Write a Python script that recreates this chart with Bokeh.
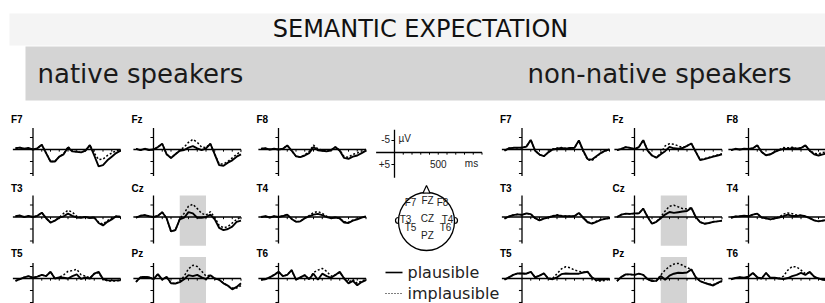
from bokeh.plotting import figure
from bokeh.models import Range1d
from bokeh.core.properties import value
from bokeh.embed import file_html
from bokeh.resources import INLINE
import math

# ---------------- data ----------------
times = [-200, -150, -100, -50, 0, 50, 100, 150, 200, 250, 300, 350, 400,
         450, 500, 550, 600, 650, 700, 750, 800, 850, 900, 950, 1000]

electrodes = [["F7", "Fz", "F8"], ["T3", "Cz", "T4"], ["T5", "Pz", "T6"]]
y_ticks_uv = [-5, 5, 10]
x_ticks_ms = [100, 200, 300, 400, 500, 600, 700, 800, 900, 1000]
n400_window = [300, 600]

# native speakers (uV, negative plotted up)
nat_F7_plaus = [-0.5, -0.8, -0.3, -0.6, 0, -0.5, -2.0, 1.5, 5.0, 5.0, 3.0, 2.0, -0.8, 0.8, 1.0, 1.2, 0.5, -1.8, 2.5, 7.0, 6.5, 4.5, 3.0, 1.5, 0.5]
nat_F7_impl = [-0.5, -0.8, -0.3, -0.6, 0, -0.5, -2.0, 1.5, 5.0, 5.0, 3.0, 1.8, -1.2, 0.5, 1.0, 1.2, 0.5, -1.8, 1.5, 4.2, 4.0, 2.5, 1.5, 0.5, 0.0]
nat_Fz_plaus = [-0.3, 0.3, -0.3, 0.2, 0, -1.0, -2.4, 2.0, 3.5, 2.0, 0.5, 0.2, -0.8, -1.4, -0.5, 0.3, -0.5, -2.4, 2.0, 6.5, 6.8, 5.5, 4.5, 3.0, 2.0]
nat_Fz_impl = [-0.3, 0.3, -0.3, 0.2, 0, -1.0, -2.4, 2.0, 3.5, 2.0, 0.3, -1.0, -3.0, -4.2, -3.0, -1.0, -0.8, -2.4, 2.0, 6.0, 6.0, 5.0, 3.5, 2.0, 0.8]
nat_F8_plaus = [-0.3, -0.5, 0, -0.3, 0, -0.3, -1.7, 0.5, 2.8, 3.2, 2.5, 1.5, -1.0, 0.3, 0.5, 0.8, 0.3, -1.0, 0.5, 3.5, 3.9, 3.0, 2.5, 1.5, 0.5]
nat_F8_impl = [-0.3, -0.5, 0, -0.3, 0, -0.3, -1.7, 0.5, 2.8, 3.2, 2.3, 0.8, -1.8, -0.3, 0.3, 0.6, 0.3, -1.0, 0.3, 3.0, 3.2, 2.0, 1.5, 0.6, 0.0]
nat_T3_plaus = [-0.3, -0.6, 0, -0.4, 0, -0.5, -1.8, 0.5, 2.3, 1.5, 0.3, -0.3, -1.4, -0.5, 0.2, 0.3, 0, 0.4, 0.2, 2.5, 3.5, 2.0, 1.0, -0.3, 0]
nat_T3_impl = [-0.3, -0.6, 0, -0.4, 0, -0.5, -1.8, 0.5, 2.3, 1.5, 0.2, -1.5, -2.8, -2.0, -0.3, 0.2, 0, 0.4, 0.2, 2.2, 3.0, 1.5, 0.6, -0.3, -0.2]
nat_Cz_plaus = [0.3, -0.5, -0.8, -0.3, 0, -0.5, -2.0, 0.5, 6.0, 5.5, 1.0, 0.3, -2.0, -1.5, 0.3, 0.3, 0, -1.0, 1.0, 4.5, 5.5, 5.0, 4.0, 2.0, 1.5]
nat_Cz_impl = [0.3, -0.5, -0.8, -0.3, 0, -0.5, -2.0, 0.5, 6.0, 5.5, 0.8, -1.5, -4.5, -5.3, -3.5, -1.5, -0.8, -2.2, 0.2, 3.5, 4.5, 4.0, 2.5, 1.0, 0.0]
nat_T4_plaus = [0, -0.3, 0.2, -0.3, 0, -0.4, -1.0, 0.8, 2.0, 1.8, 0.5, -0.3, -1.0, -1.3, -0.8, 0, 0.5, 0.2, 0.6, 2.3, 2.5, 1.5, 1.0, 0.3, -0.3]
nat_T4_impl = [0, -0.3, 0.2, -0.3, 0, -0.4, -1.0, 0.8, 2.0, 1.8, 0.5, -0.6, -1.8, -2.3, -1.5, -0.3, 0.4, 0.2, 0.6, 2.0, 2.2, 1.3, 0.8, 0.2, -0.3]
nat_T5_plaus = [1.0, 0.3, -0.5, -1.0, -0.3, -0.8, -1.5, -1.0, -2.8, 0, -0.5, -0.3, 0, -1.0, -1.7, 0.2, -0.5, 0, -2.0, -2.8, 0.2, 0.7, 0.8, 0.8, 0.7]
nat_T5_impl = [1.0, 0.3, -0.5, -1.0, -0.3, -0.8, -1.5, -1.0, -2.8, 0, -0.5, -1.5, -3.0, -3.3, -3.8, -1.5, -1.0, -0.3, -2.0, -2.5, 0.3, 1.0, 1.0, 1.0, 0.8]
nat_Pz_plaus = [1.4, -0.5, -0.7, -0.5, 0.3, -1.8, 0.5, -0.7, 2.0, 2.1, 1.5, 0.3, -1.4, -1.0, -1.5, -0.5, 0.3, -1.4, 0, 0.5, 2.0, 3.0, 4.5, 3.5, 2.0]
nat_Pz_impl = [1.4, -0.5, -0.7, -0.5, 0.3, -1.8, 0.5, -0.7, 2.0, 2.1, 1.2, -1.0, -4.0, -5.5, -5.0, -3.0, -1.0, -1.4, 0, 0.5, 2.0, 3.0, 4.0, 4.0, 3.0]
nat_T6_plaus = [0.5, 0.3, -0.5, -1.5, -2.8, -1.0, -1.5, -3.5, 0.5, -0.5, -1.4, 0.3, -2.0, 0.5, -2.0, -1.0, -0.3, -1.5, -2.8, 0, 2.0, 1.0, 2.8, 1.5, 0.7]
nat_T6_impl = [0.5, 0.3, -0.5, -1.5, -2.8, -1.0, -1.5, -3.5, 0.5, -0.5, -1.4, 0.3, -2.5, -3.5, -4.2, -3.0, -1.0, -1.5, -2.5, 0, 1.5, 0.5, 2.0, 1.0, 0.5]

# non-native speakers
nn_F7_plaus = [0.5, -0.5, -0.7, -0.7, -0.8, -1.2, -4.0, 0.5, 2.1, 2.8, 1.2, 0, -0.3, -0.6, -0.3, -0.6, -0.7, -3.8, 0.5, 4.0, 4.2, 2.8, 1.5, 0.5, 0]
nn_F7_impl = [0.5, -0.5, -0.7, -0.7, -0.8, -1.2, -4.0, 0.5, 2.1, 2.8, 1.2, -0.2, -0.6, -0.8, -0.5, -0.6, -0.7, -3.6, 0.8, 4.3, 4.6, 3.0, 1.6, 0.6, 0.2]
nn_Fz_plaus = [0.3, -0.3, -1.0, -0.7, -0.2, -1.0, -3.9, 0.5, 2.5, 3.4, 2.0, 0.7, -1.1, -0.5, -0.3, -0.6, -1.5, -2.5, 1.0, 4.4, 4.0, 3.5, 3.0, 2.5, 2.0]
nn_Fz_impl = [0.3, -0.3, -1.0, -0.7, -0.2, -1.0, -3.9, 0.5, 2.5, 3.4, 1.5, -1.5, -2.4, -2.2, -1.5, -0.8, -1.5, -2.5, 1.0, 4.2, 3.8, 3.3, 2.8, 2.3, 1.8]
nn_F8_plaus = [0.3, -0.3, 0, -0.3, -0.2, -0.5, -1.8, 1.0, 2.4, 2.0, 1.0, 0.3, -0.3, -0.2, -0.6, -0.3, -0.6, -1.7, 0.5, 2.0, 2.5, 2.0, 1.5, 1.0, 0.5]
nn_F8_impl = [0.3, -0.3, 0, -0.3, -0.2, -0.5, -1.8, 1.0, 2.4, 2.0, 1.0, 0.1, -0.8, -0.7, -0.9, -0.4, -0.6, -1.7, 0.4, 1.6, 1.8, 1.2, 1.0, 0.7, 0.4]
nn_T3_plaus = [0.7, -0.2, -0.8, -1.1, -0.9, -1.5, -1.2, 0.5, 1.4, 0.7, 0.2, -0.3, -0.7, -0.4, -0.3, -0.3, -0.4, -1.7, 0.3, 2.2, 2.8, 2.0, 1.2, 0.8, 0.4]
nn_T3_impl = [0.7, -0.2, -0.8, -1.1, -0.9, -1.5, -1.2, 0.5, 1.4, 0.7, 0.1, -0.5, -0.9, -0.6, -0.4, -0.3, -0.4, -1.6, 0.3, 2.0, 2.5, 1.8, 1.1, 0.8, 0.5]
nn_Cz_plaus = [0, -1.0, -1.4, -1.3, -1.5, -1.5, -3.5, 0, 2.8, 2.0, 0.5, -1.0, -2.1, -1.7, -2.0, -2.3, -2.5, -3.8, 0, 2.1, 2.8, 2.5, 2.0, 1.8, 1.5]
nn_Cz_impl = [0, -1.0, -1.4, -1.3, -1.5, -1.5, -3.5, 0, 2.8, 2.0, 0, -2.5, -4.5, -4.9, -4.2, -3.5, -3.3, -3.8, 0, 2.1, 2.8, 2.5, 2.0, 1.8, 1.5]
nn_T4_plaus = [0.3, -0.2, -0.3, -0.5, -0.3, -1.0, -1.4, 0.2, 0.6, 1.0, 0.6, 0.2, -0.4, -1.0, -0.4, -0.4, -0.7, -0.3, 0.5, 1.4, 1.8, 1.5, 1.2, 1.0, 0.8]
nn_T4_impl = [0.3, -0.2, -0.3, -0.5, -0.3, -1.0, -1.4, 0.2, 0.6, 1.0, 0.6, 0, -1.2, -1.7, -1.4, -0.8, -0.7, -0.3, 0.5, 1.4, 1.8, 1.5, 1.2, 1.0, 0.8]
nn_T5_plaus = [0.5, -0.5, -1.5, -2.1, -2.1, -2.0, -2.8, -0.5, -1.2, -2.1, 0, 0.3, -0.5, -1.8, -2.1, -2.0, -2.0, -2.0, -2.5, -2.8, -0.5, 0.7, 0.5, 0.3, 0.2]
nn_T5_impl = [0.5, -0.5, -1.5, -2.1, -2.1, -2.0, -2.8, -0.5, -1.2, -2.1, 0, 0, -2.0, -4.0, -4.9, -4.5, -3.5, -3.0, -2.6, -2.8, 0, 1.0, 1.0, 0.8, 0.3]
nn_Pz_plaus = [1.1, -0.7, -1.7, -1.7, -1.5, -2.0, -1.5, 0.3, 1.1, 1.0, -1.0, 0.5, -1.2, -2.0, -2.4, -2.3, -2.5, -3.8, -0.5, 1.1, 1.8, 2.4, 2.9, 1.8, 1.0]
nn_Pz_impl = [1.1, -0.7, -1.7, -1.7, -1.5, -2.0, -1.5, 0.3, 1.1, 1.0, -1.5, -3.5, -5.0, -6.0, -6.3, -5.5, -4.5, -3.8, -0.5, 1.1, 1.8, 2.4, 2.5, 2.0, 1.2]
nn_T6_plaus = [0.3, -0.2, -0.5, -0.3, -0.8, -2.3, -0.5, 0, -2.3, -0.3, -0.3, 0, 0.2, -0.2, -1.0, -1.5, -2.3, -1.5, -2.8, -0.8, 0, 0.5, 0.8, 0.5, 0.3]
nn_T6_impl = [0.3, -0.2, -0.5, -0.3, -0.8, -2.3, -0.5, 0, -2.3, -0.3, -0.3, 0, -1.0, -3.5, -5.0, -4.8, -3.5, -2.0, -2.5, -0.8, 0, 0.5, 0.8, 0.5, 0.3]

native_series = {
    "F7": (nat_F7_plaus, nat_F7_impl), "Fz": (nat_Fz_plaus, nat_Fz_impl), "F8": (nat_F8_plaus, nat_F8_impl),
    "T3": (nat_T3_plaus, nat_T3_impl), "Cz": (nat_Cz_plaus, nat_Cz_impl), "T4": (nat_T4_plaus, nat_T4_impl),
    "T5": (nat_T5_plaus, nat_T5_impl), "Pz": (nat_Pz_plaus, nat_Pz_impl), "T6": (nat_T6_plaus, nat_T6_impl),
}
nonnative_series = {
    "F7": (nn_F7_plaus, nn_F7_impl), "Fz": (nn_Fz_plaus, nn_Fz_impl), "F8": (nn_F8_plaus, nn_F8_impl),
    "T3": (nn_T3_plaus, nn_T3_impl), "Cz": (nn_Cz_plaus, nn_Cz_impl), "T4": (nn_T4_plaus, nn_T4_impl),
    "T5": (nn_T5_plaus, nn_T5_impl), "Pz": (nn_Pz_plaus, nn_Pz_impl), "T6": (nn_T6_plaus, nn_T6_impl),
}

# ---------------- layout / style ----------------
W, H = 825, 303
MS_PX = 0.0875   # pixels per ms
UV_PX = 2.4      # pixels per microvolt
COL_X = {"native": [32.5, 153, 278], "nonnative": [521.5, 634, 748]}
ROW_Y = [149, 216.5, 278]
ROW_AXIS_TOP = [-9, -9, -6.5]
LABEL_DY = [30, 29, 25]
SHADE = "#d3d3d3"
LABEL_FONT = value("Liberation Sans")
SANS = value("DejaVu Sans")

p = figure(width=W, height=H, x_range=Range1d(0, W), y_range=Range1d(H, 0),
           output_backend="svg", toolbar_location=None, min_border=0,
           x_axis_type=None, y_axis_type=None, outline_line_color=None)
p.grid.visible = False
p.background_fill_color = "white"
p.border_fill_color = "white"

# header bands
p.quad(left=[9], right=[W + 5], top=[13], bottom=[45], fill_color="#f4f4f4", line_color=None)
p.quad(left=[25], right=[W + 5], top=[46], bottom=[100], fill_color="#d4d4d4", line_color=None)
p.text(x=[420], y=[28], text=["SEMANTIC EXPECTATION"], text_align="center", text_baseline="middle",
       text_font=SANS, text_font_size="24px", text_color="#111111")
p.text(x=[37], y=[73], text=["native speakers"], text_align="left",
       text_baseline="middle", text_font=SANS, text_font_size="26px", text_color="#1a1a1a")
p.text(x=[791], y=[73], text=["non-native speakers"], text_align="right",
       text_baseline="middle", text_font=SANS, text_font_size="26px", text_color="#1a1a1a")


def panel_api(x0, yb):
    return p.subplot(
        x_source=Range1d(start=-200, end=1000),
        x_target=Range1d(start=x0 - 200 * MS_PX, end=x0 + 1000 * MS_PX),
        y_source=Range1d(start=-10, end=10),
        y_target=Range1d(start=yb - 10 * UV_PX, end=yb + 10 * UV_PX),
    )


def draw_axes(sp, ytop, yticks):
    sp.segment(x0=[-230], y0=[0], x1=[1000], y1=[0], line_color="black", line_width=1.3)
    sp.segment(x0=[0], y0=[ytop], x1=[0], y1=[11], line_color="black", line_width=1.3)
    sp.segment(x0=[-35] * len(yticks), y0=yticks, x1=[0] * len(yticks), y1=yticks,
               line_color="black", line_width=1.1)
    sp.segment(x0=x_ticks_ms, y0=[0] * len(x_ticks_ms), x1=x_ticks_ms, y1=[0.9] * len(x_ticks_ms),
               line_color="black", line_width=1.0)


for group, series in (("native", native_series), ("nonnative", nonnative_series)):
    for r, row in enumerate(electrodes):
        for c, el in enumerate(row):
            x0 = COL_X[group][c]
            yb = ROW_Y[r]
            sp = panel_api(x0, yb)
            if el in ("Cz", "Pz"):
                sp.quad(left=[n400_window[0]], right=[n400_window[1]], top=[-9], bottom=[12],
                        fill_color=SHADE, line_color=None)
            draw_axes(sp, ROW_AXIS_TOP[r], [t for t in y_ticks_uv if t >= ROW_AXIS_TOP[r]])
            plaus, impl = series[el]
            sp.line(times, impl, line_color="black", line_width=1.5, line_dash="2 2")
            sp.line(times, plaus, line_color="black", line_width=1.9)
            p.text(x=[x0 - 22], y=[yb - LABEL_DY[r]], text=[el], text_align="left", text_baseline="middle",
                   text_font=LABEL_FONT, text_font_style="bold", text_font_size="10px", text_color="black")

# calibration panel
sc = panel_api(394, 152)
sc.segment(x0=[-210], y0=[0], x1=[1000], y1=[0], line_color="black", line_width=1.3)
sc.segment(x0=[0], y0=[-9.5], x1=[0], y1=[10.5], line_color="black", line_width=1.3)
sc.segment(x0=[-35, -35], y0=[-5, 5], x1=[0, 0], y1=[-5, 5], line_color="black", line_width=1.1)
sc.segment(x0=x_ticks_ms, y0=[0] * len(x_ticks_ms), x1=x_ticks_ms, y1=[0.9] * len(x_ticks_ms),
           line_color="black", line_width=1.0)
sc.text(x=[-50, -50], y=[-5.6, 4.6], text=["-5", "+5"], text_align="right", text_baseline="middle",
        text_font=LABEL_FONT, text_font_size="10px", text_color="#222222")
sc.text(x=[45], y=[-6.0], text=["µV"], text_align="left", text_baseline="middle",
        text_font=LABEL_FONT, text_font_size="10px", text_color="#222222")
sc.text(x=[500, 880], y=[4.6, 4.6], text=["500", "ms"], text_align="center", text_baseline="middle",
        text_font=LABEL_FONT, text_font_size="10px", text_color="#222222")

# electrode map (head)
p.ellipse(x=[426], y=[221], width=[56], height=[58], fill_color=None, line_color="black", line_width=1.3)
p.patch(x=[422.5, 426, 429.5], y=[192.5, 185, 192.5], fill_color="white", line_color="black", line_width=1.2)
p.arc(x=[398], y=[220], radius=3, start_angle=math.pi / 2, end_angle=3 * math.pi / 2,
      line_color="black", line_width=1.2)
p.arc(x=[454], y=[220], radius=3, start_angle=-math.pi / 2, end_angle=math.pi / 2,
      line_color="black", line_width=1.2)
head_names = ["F7", "FZ", "F8", "T3", "CZ", "T4", "T5", "T6", "PZ"]
head_x = [410, 427, 442, 405, 427, 447, 410, 445, 427]
head_y = [202, 200, 202, 219, 218, 219, 227, 227, 235]
p.text(x=head_x, y=head_y, text=head_names, text_align="center", text_baseline="middle",
       text_font=LABEL_FONT, text_font_size="10px", text_color="#222222")

# legend
p.segment(x0=[385], y0=[272], x1=[402], y1=[272], line_color="black", line_width=1.6)
p.segment(x0=[385], y0=[293], x1=[402], y1=[293], line_color="black", line_width=1.2, line_dash="1 2")
p.text(x=[407, 407], y=[272, 293], text=["plausible", "implausible"], text_align="left",
       text_baseline="middle", text_font=SANS, text_font_size="16px", text_color="#222222")

open("out.html", "w").write(file_html(p, INLINE))
